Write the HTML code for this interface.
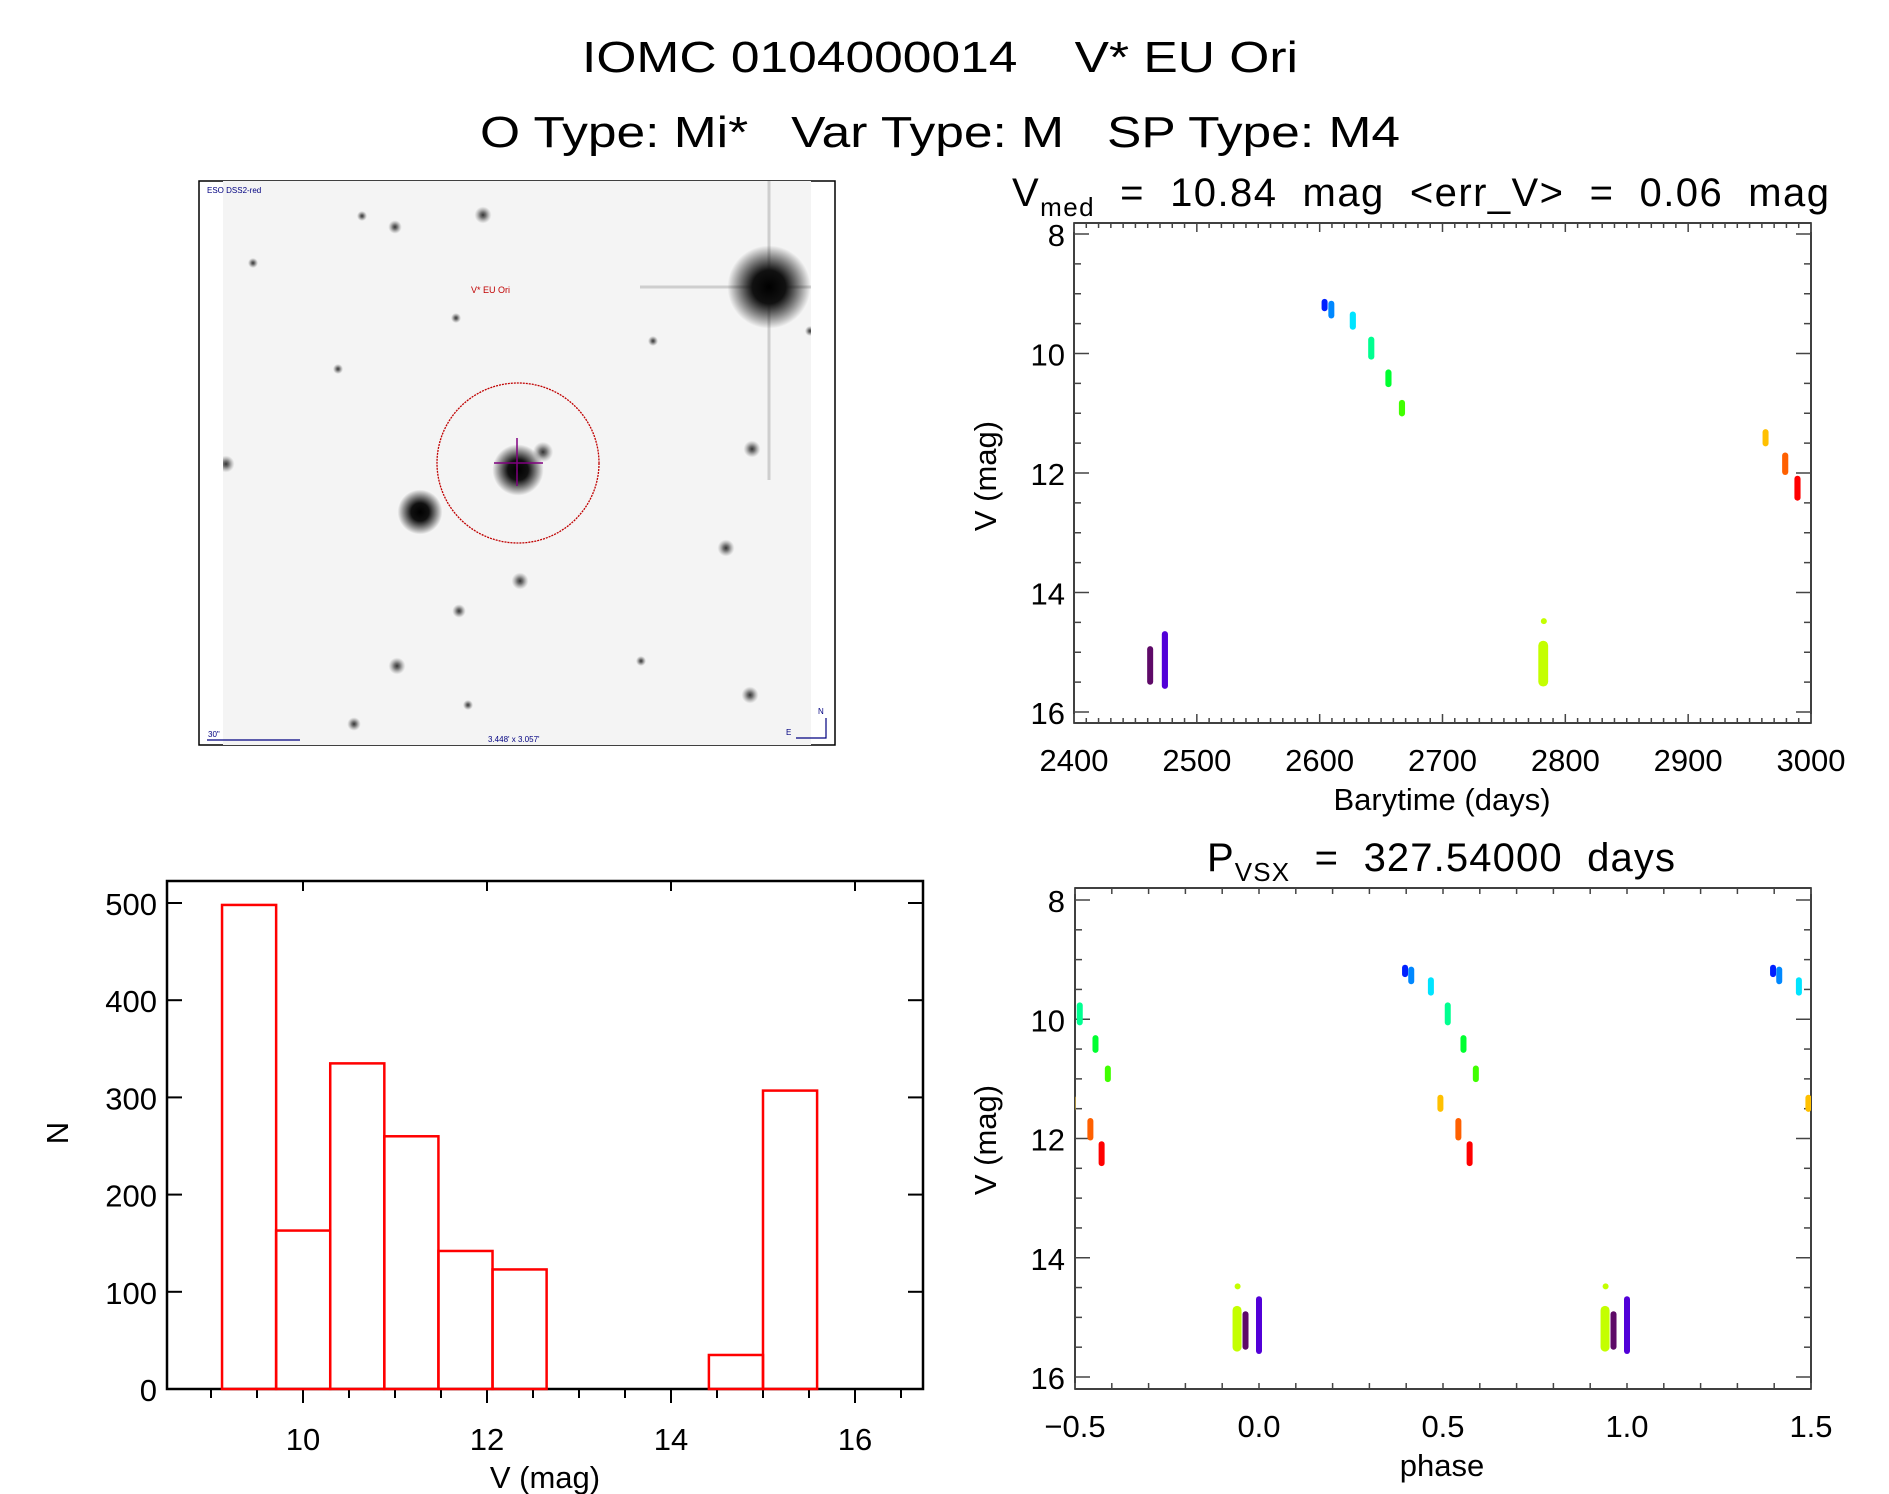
<!DOCTYPE html>
<html><head><meta charset="utf-8"><style>
html,body{margin:0;padding:0;background:#fff;}
svg{display:block;font-family:"Liberation Sans",sans-serif;}
text{white-space:pre;}
</style></head><body>
<svg id="root" width="1889" height="1494" viewBox="0 0 1889 1494" xmlns="http://www.w3.org/2000/svg" xml:space="preserve">
<defs>
 <clipPath id="clipLC"><rect x="1074" y="223" width="737" height="500"/></clipPath>
 <clipPath id="clipPh"><rect x="1075" y="888" width="736" height="501"/></clipPath>
 <clipPath id="clipImg"><rect x="223" y="181" width="588" height="564"/></clipPath>
 <radialGradient id="starG"><stop offset="0" stop-color="#000"/><stop offset="0.4" stop-color="#111"/><stop offset="1" stop-color="#000" stop-opacity="0"/></radialGradient>
 <radialGradient id="starS"><stop offset="0" stop-color="#333"/><stop offset="0.35" stop-color="#555" stop-opacity="0.8"/><stop offset="1" stop-color="#888" stop-opacity="0"/></radialGradient>
</defs>
<text x="940" y="72" font-size="44" font-weight="300" text-anchor="middle" textLength="716" lengthAdjust="spacingAndGlyphs">IOMC 0104000014    V* EU Ori</text>
<text x="940" y="147" font-size="44" text-anchor="middle" textLength="920" lengthAdjust="spacingAndGlyphs">O Type: Mi*   Var Type: M   SP Type: M4</text>

<g>
 <rect x="199" y="181" width="636" height="564" fill="#fff" stroke="#000" stroke-width="1.5"/>
 <rect x="223" y="181" width="588" height="564" fill="#f4f4f4"/>
 <g id="stars" clip-path="url(#clipImg)"></g>
 <ellipse cx="518" cy="463" rx="81" ry="80" fill="none" stroke="#c00000" stroke-width="1.3" stroke-dasharray="2 1"/>
 <line x1="517" y1="438" x2="517" y2="486" stroke="#800080" stroke-width="1.5"/>
 <line x1="494" y1="463" x2="543" y2="463" stroke="#800080" stroke-width="1.5"/>
 <text x="471" y="293" font-size="9" fill="#c00000">V* EU Ori</text>
 <text x="207" y="193" font-size="8" fill="#000080">ESO DSS2-red</text>
 <text x="208" y="737" font-size="8" fill="#000080">30"</text>
 <line x1="207" y1="740" x2="300" y2="740" stroke="#000080" stroke-width="1.2"/>
 <text x="488" y="742" font-size="8" fill="#000080">3.448' x 3.057'</text>
 <path d="M826 718 L826 738 L796 738" fill="none" stroke="#000080" stroke-width="1.2"/>
 <text x="818" y="714" font-size="8" fill="#000080">N</text>
 <text x="786" y="735" font-size="8" fill="#000080">E</text>
</g>

<g id="lc"></g>
<g id="ph"></g>
<g id="hist"></g>
</svg>
<script>
const NS="http://www.w3.org/2000/svg";
// ---- light-curve data ----
const clusterTimes=[2462,2474,2604,2609.5,2627,2642,2656,2667,2782,2963,2979,2989];
const clusterMagMin=[14.93,14.68,9.12,9.15,9.33,9.75,10.30,10.81,14.84,11.30,11.69,12.08];
const clusterMagMax=[15.51,15.58,9.26,9.38,9.57,10.07,10.53,11.02,15.54,11.52,12.00,12.43];
const clusterSpan=[4,5,4,4,5,5,5,5,8,4,5,5];
const clusterColors=["#5e0a68","#5200d8","#0020ff","#0088ff","#00e4ff","#00ff90","#00ff30","#40ff00","#c4ff00","#ffc000","#ff6000","#ff0000"];
const outlierTimes=[2782.5];
const outlierMags=[14.48];
const outlierColors=["#c4ff00"];
const period=327.54, epoch=2474;
// ---- histogram data ----
const binStart=9.12, binWidth=0.588;
const binCounts=[498,163,335,260,142,123,0,0,0,35,307];
// ---- tick labels ----
const lcXTicks=[2400,2500,2600,2700,2800,2900,3000];
const magTicks=[8,10,12,14,16];
const phTicks=["\u22120.5","0.0","0.5","1.0","1.5"];
const phTickVals=[-0.5,0,0.5,1,1.5];
const histXTicks=[10,12,14,16];
const histYTicks=[0,100,200,300,400,500];
// ---- sky image stars [x,y,r] ----
const starList=[[769,287,26],[420,512,14],[518,470,16],[543,452,6],[483,215,5],[395,227,4],[752,449,5],[726,548,5],[520,581,5],[459,611,4],[397,666,5],[750,695,5],[354,724,4],[226,464,5],[468,705,3],[641,661,3],[362,216,3],[253,263,3],[456,318,3],[810,331,3],[338,369,3],[653,341,3]];

function mk(tag,attrs,parent){const e=document.createElementNS(NS,tag);for(const k in attrs)e.setAttribute(k,attrs[k]);parent.appendChild(e);return e;}
function txt(parent,x,y,s,size,anchor,extra){const t=mk("text",Object.assign({x:x,y:y,"font-size":size,"text-anchor":anchor||"middle"},extra||{}),parent);t.textContent=s;return t;}

// stars
const sg=document.getElementById("stars");
mk("line",{x1:769,y1:181,x2:769,y2:480,stroke:"#aaa","stroke-width":3,opacity:0.5},sg);
mk("line",{x1:640,y1:287,x2:811,y2:287,stroke:"#aaa","stroke-width":3,opacity:0.5},sg);
starList.forEach(s=>{
 const big=s[2]>=10;
 const c=mk("circle",{cx:s[0],cy:s[1],r:big?s[2]*1.6:s[2]*1.7,fill:big?"url(#starG)":"url(#starS)"},sg);
 
 
});

// ---------- light curve ----------
const lc=document.getElementById("lc");
const LX0=1074,LX1=1811,LY0=223,LY1=723;
const lx=t=>LX0+(t-2400)/600*(LX1-LX0);
const my=(m,y8,y16)=>y8+(m-8)/8*(y16-y8);
const lyf=m=>my(m,234,712);
mk("rect",{x:LX0,y:LY0,width:LX1-LX0,height:LY1-LY0,fill:"none",stroke:"#000","stroke-width":1.5},lc);
for(let t=2400;t<=3000;t+=10){const maj=(t%100===0);const L=maj?9:5;
 mk("line",{x1:lx(t),y1:LY1,x2:lx(t),y2:LY1-L,stroke:"#444","stroke-width":1.5},lc);
 mk("line",{x1:lx(t),y1:LY0,x2:lx(t),y2:LY0+L,stroke:"#444","stroke-width":1.5},lc);}
for(let m=8;m<=16;m+=0.5){const maj=(m%2===0);const L=maj?15:7;
 mk("line",{x1:LX0,y1:lyf(m),x2:LX0+L,y2:lyf(m),stroke:"#444","stroke-width":1.5},lc);
 mk("line",{x1:LX1,y1:lyf(m),x2:LX1-L,y2:lyf(m),stroke:"#444","stroke-width":1.5},lc);}
lcXTicks.forEach(v=>{const t=txt(lc,lx(v),771,String(v),31);});
magTicks.forEach(v=>{const t=txt(lc,1065,lyf(v)+12,String(v),31,"end");});
{const t=txt(lc,1442,810,"Barytime (days)",31);}
{const t=txt(lc,0,0,"V (mag)",31,"middle",{transform:"translate(996,476) rotate(-90)"});}
{const t=mk("text",{x:1012,y:206,"font-size":40,textLength:817,lengthAdjust:"spacing"},lc);t.innerHTML='V<tspan font-size="26" dy="10">med</tspan><tspan dy="-10">  =  10.84  mag  &lt;err_V&gt;  =  0.06  mag</tspan>';}
const lcg=mk("g",{"clip-path":"url(#clipLC)"},lc);
function capsule(g,x,y1,y2,w,color){
 const r=mk("rect",{x:x-w/2,y:y1-2,width:w,height:Math.max(4,y2-y1+4),rx:w/2,fill:color},g);
 }
clusterTimes.forEach((t,i)=>{const w=Math.max(6,clusterSpan[i]*1.23);
 capsule(lcg,lx(t),lyf(clusterMagMin[i]),lyf(clusterMagMax[i]),w,clusterColors[i]);});
outlierTimes.forEach((t,i)=>{const c=mk("circle",{cx:lx(t),cy:lyf(outlierMags[i]),r:3,fill:outlierColors[i]},lcg);});

// ---------- phase plot ----------
const ph=document.getElementById("ph");
const PX0=1075,PX1=1811,PY0=888,PY1=1389;
const px=p=>PX0+(p+0.5)/2*(PX1-PX0);
const pyf=m=>my(m,900,1377);
mk("rect",{x:PX0,y:PY0,width:PX1-PX0,height:PY1-PY0,fill:"none",stroke:"#000","stroke-width":1.5},ph);
for(let k=-5;k<=15;k++){const p=k/10;
 mk("line",{x1:px(p),y1:PY1,x2:px(p),y2:PY1-6,stroke:"#444","stroke-width":1.5},ph);
 mk("line",{x1:px(p),y1:PY0,x2:px(p),y2:PY0+6,stroke:"#444","stroke-width":1.5},ph);}
for(let m=8;m<=16;m+=0.5){const maj=(m%2===0);const L=maj?15:7;
 mk("line",{x1:PX0,y1:pyf(m),x2:PX0+L,y2:pyf(m),stroke:"#444","stroke-width":1.5},ph);
 mk("line",{x1:PX1,y1:pyf(m),x2:PX1-L,y2:pyf(m),stroke:"#444","stroke-width":1.5},ph);}
phTickVals.forEach((v,i)=>{const t=txt(ph,px(v),1437,phTicks[i],31);});
magTicks.forEach(v=>{const t=txt(ph,1065,pyf(v)+12,String(v),31,"end");});
{const t=txt(ph,1442,1476,"phase",31);}
{const t=txt(ph,0,0,"V (mag)",31,"middle",{transform:"translate(996,1140) rotate(-90)"});}
{const t=mk("text",{x:1207,y:871,"font-size":40,textLength:468,lengthAdjust:"spacing"},ph);t.innerHTML='P<tspan font-size="26" dy="10">VSX</tspan><tspan dy="-10">  =  327.54000  days</tspan>';}
const phg=mk("g",{"clip-path":"url(#clipPh)"},ph);
const pscale=(PX1-PX0)/2/period;
clusterTimes.forEach((t,i)=>{let f=((t-epoch)/period)%1;if(f<0)f+=1;
 [f-1,f,f+1].forEach(p=>{if(p<-0.52||p>1.52)return;
  capsule(phg,px(p),pyf(clusterMagMin[i]),pyf(clusterMagMax[i]),Math.max(6,clusterSpan[i]*pscale),clusterColors[i]);});});
outlierTimes.forEach((t,i)=>{let f=((t-epoch)/period)%1;if(f<0)f+=1;
 [f-1,f,f+1].forEach(p=>{if(p<-0.52||p>1.52)return;
  const c=mk("circle",{cx:px(p),cy:pyf(outlierMags[i]),r:3,fill:outlierColors[i]},phg);});});

// ---------- histogram ----------
const hg=document.getElementById("hist");
const HX0=167,HX1=923,HY0=881,HY1=1389;
const hx=v=>671+(v-14)*92;
const hy=n=>HY1-n*(HY1-903)/500;
mk("rect",{x:HX0,y:HY0,width:HX1-HX0,height:HY1-HY0,fill:"none",stroke:"#000","stroke-width":2.5},hg);
for(let v=9;v<=16.5;v+=0.5){const maj=(v%2===0);
 mk("line",{x1:hx(v),y1:HY1,x2:hx(v),y2:HY1+(maj?14:9),stroke:"#000","stroke-width":2},hg);
 if(maj)mk("line",{x1:hx(v),y1:HY0,x2:hx(v),y2:HY0+10,stroke:"#000","stroke-width":2},hg);}
histYTicks.forEach(n=>{
 mk("line",{x1:HX0,y1:hy(n),x2:HX0+15,y2:hy(n),stroke:"#000","stroke-width":2},hg);
 mk("line",{x1:HX1,y1:hy(n),x2:HX1-15,y2:hy(n),stroke:"#000","stroke-width":2},hg);
 const t=txt(hg,157,hy(n)+12,String(n),31,"end");});
histXTicks.forEach(v=>{const t=txt(hg,hx(v),1450,String(v),31);});
{const t=txt(hg,545,1488,"V (mag)",31);}
{const t=txt(hg,0,0,"N",31,"middle",{transform:"translate(68,1133) rotate(-90)"});}
binCounts.forEach((n,i)=>{const a=hx(binStart+i*binWidth),b=hx(binStart+(i+1)*binWidth);
 const r=mk("rect",{x:a,y:hy(n),width:b-a,height:HY1-hy(n),fill:"none",stroke:"#ff0000","stroke-width":2.5},hg);
 
 });
</script>
</body></html>
